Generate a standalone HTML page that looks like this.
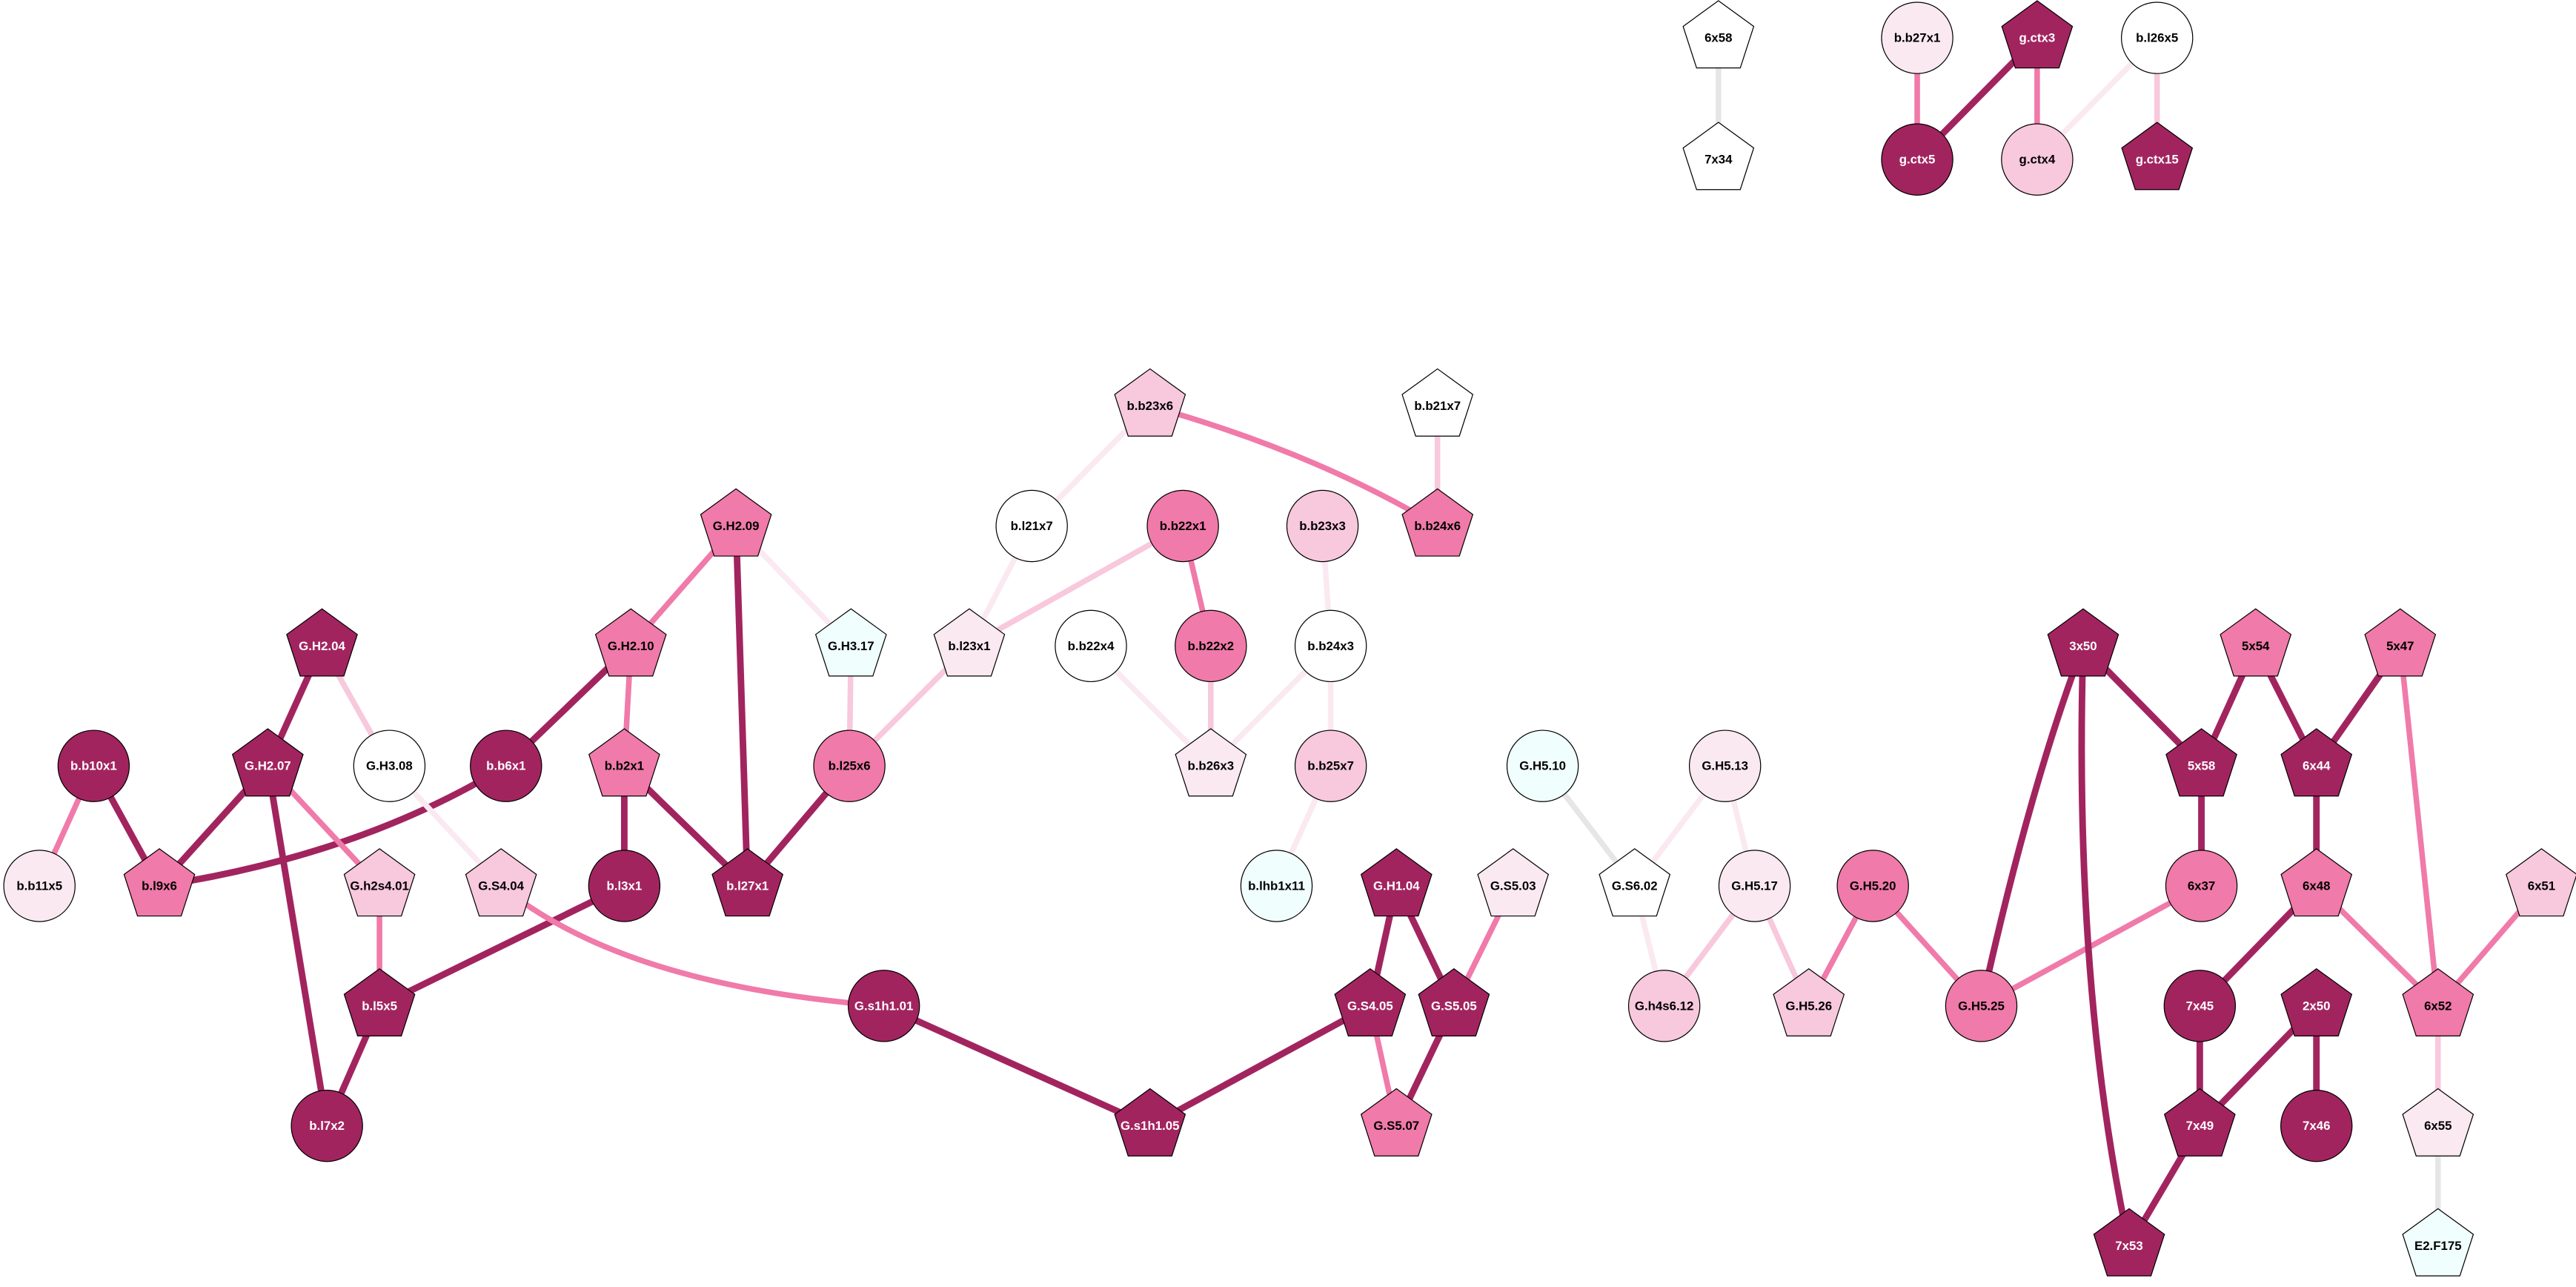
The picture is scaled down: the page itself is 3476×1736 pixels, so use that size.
<!DOCTYPE html>
<html><head><meta charset="utf-8"><style>
html,body{margin:0;padding:0;background:#fff;}
svg{display:block;}
text{font-family:"Liberation Sans",Arial,sans-serif;font-weight:bold;font-size:7.6px;text-anchor:middle;dominant-baseline:central;}
.w{fill:#fff}
.d{stroke:#a2245f;stroke-width:4.0;fill:none}
.m{stroke:#f07aa9;stroke-width:3.4;fill:none}
.l{stroke:#f8c8dc;stroke-width:3.4;fill:none}
.v{stroke:#fbe9f1;stroke-width:3.4;fill:none}
.g{stroke:#e6e6e6;stroke-width:3.4;fill:none}
circle,polygon{stroke:#000;stroke-width:0.55}
</style></head><body>
<svg width="3476" height="1736" viewBox="0 0 1568 783" xmlns="http://www.w3.org/2000/svg">
<defs><polygon id="p" points="0,-22.6 21.5,-7 13.3,18.3 -13.3,18.3 -21.5,-7"/></defs>
<line class="g" x1="1046" y1="23" x2="1046" y2="97"/>
<line class="m" x1="1167" y1="23" x2="1167" y2="97"/>
<line class="d" x1="1240" y1="23" x2="1167" y2="97"/>
<line class="m" x1="1240" y1="23" x2="1240" y2="97"/>
<line class="v" x1="1313" y1="23" x2="1240" y2="97"/>
<line class="l" x1="1313" y1="23" x2="1313" y2="97"/>

<path class="m" d="M700,247 Q800,275 875,320"/>
<line class="v" x1="700" y1="247" x2="628" y2="320"/>
<line class="l" x1="875" y1="247" x2="875" y2="320"/>
<line class="v" x1="628" y1="320" x2="590" y2="393"/>
<line class="l" x1="720" y1="320" x2="590" y2="393"/>
<line class="m" x1="720" y1="320" x2="737" y2="393"/>
<line class="v" x1="805" y1="320" x2="810" y2="393"/>
<line class="v" x1="664" y1="393" x2="737" y2="466"/>
<line class="v" x1="810" y1="393" x2="737" y2="466"/>
<line class="v" x1="810" y1="393" x2="810" y2="466"/>
<line class="v" x1="810" y1="466" x2="777" y2="539"/>
<line class="l" x1="737" y1="393" x2="737" y2="466"/>
<line class="l" x1="590" y1="393" x2="517" y2="466"/>
<line class="l" x1="518" y1="393" x2="517" y2="466"/>
<line class="v" x1="448" y1="320" x2="518" y2="393"/>
<line class="m" x1="448" y1="320" x2="384" y2="393"/>
<line class="d" x1="448" y1="320" x2="455" y2="539"/>
<line class="d" x1="384" y1="393" x2="308" y2="466"/>
<line class="m" x1="384" y1="393" x2="380" y2="466"/>
<line class="d" x1="380" y1="466" x2="380" y2="539"/>
<line class="d" x1="380" y1="466" x2="455" y2="539"/>
<line class="d" x1="517" y1="466" x2="455" y2="539"/>
<path class="d" d="M308,466 Q220,520 97,539"/>
<line class="d" x1="196" y1="393" x2="163" y2="466"/>
<line class="l" x1="196" y1="393" x2="237" y2="466"/>
<line class="v" x1="237" y1="466" x2="305" y2="539"/>
<line class="d" x1="163" y1="466" x2="97" y2="539"/>
<line class="m" x1="163" y1="466" x2="231" y2="539"/>
<line class="d" x1="163" y1="466" x2="199" y2="685"/>
<line class="m" x1="57" y1="466" x2="24" y2="539"/>
<line class="d" x1="57" y1="466" x2="97" y2="539"/>
<line class="m" x1="231" y1="539" x2="231" y2="612"/>
<line class="d" x1="380" y1="539" x2="231" y2="612"/>
<line class="d" x1="231" y1="612" x2="199" y2="685"/>
<path class="m" d="M305,539 Q380,600 538,612"/>
<line class="d" x1="538" y1="612" x2="700" y2="685"/>
<line class="d" x1="700" y1="685" x2="834" y2="612"/>
<line class="d" x1="850" y1="539" x2="834" y2="612"/>
<line class="d" x1="850" y1="539" x2="885" y2="612"/>
<line class="m" x1="834" y1="612" x2="850" y2="685"/>
<line class="d" x1="885" y1="612" x2="850" y2="685"/>
<line class="m" x1="921" y1="539" x2="885" y2="612"/>
<line class="g" x1="939" y1="466" x2="995" y2="539"/>
<line class="v" x1="1050" y1="466" x2="995" y2="539"/>
<line class="v" x1="1050" y1="466" x2="1068" y2="539"/>
<line class="v" x1="995" y1="539" x2="1013" y2="612"/>
<line class="l" x1="1068" y1="539" x2="1013" y2="612"/>
<line class="l" x1="1068" y1="539" x2="1101" y2="612"/>
<line class="m" x1="1140" y1="539" x2="1101" y2="612"/>
<line class="m" x1="1140" y1="539" x2="1206" y2="612"/>
<line class="m" x1="1340" y1="539" x2="1206" y2="612"/>
<path class="d" d="M1268,393 Q1235,480 1206,612"/>
<line class="d" x1="1268" y1="393" x2="1340" y2="466"/>
<path class="d" d="M1268,393 Q1262,600 1296,758"/>
<line class="d" x1="1373" y1="393" x2="1340" y2="466"/>
<line class="d" x1="1373" y1="393" x2="1410" y2="466"/>
<line class="d" x1="1461" y1="393" x2="1410" y2="466"/>
<line class="m" x1="1461" y1="393" x2="1484" y2="612"/>
<line class="d" x1="1340" y1="466" x2="1340" y2="539"/>
<line class="d" x1="1410" y1="466" x2="1410" y2="539"/>
<line class="d" x1="1410" y1="539" x2="1339" y2="612"/>
<line class="m" x1="1410" y1="539" x2="1484" y2="612"/>
<line class="m" x1="1547" y1="539" x2="1484" y2="612"/>
<line class="l" x1="1484" y1="612" x2="1484" y2="685"/>
<line class="g" x1="1484" y1="685" x2="1484" y2="758"/>
<line class="d" x1="1339" y1="612" x2="1339" y2="685"/>
<line class="d" x1="1410" y1="612" x2="1339" y2="685"/>
<line class="d" x1="1410" y1="612" x2="1410" y2="685"/>
<line class="d" x1="1339" y1="685" x2="1296" y2="758"/>

<g>
<use href="#p" x="1046" y="23" fill="#fff"/><text x="1046" y="23">6x58</text>
<use href="#p" x="1046" y="97" fill="#fff"/><text x="1046" y="97">7x34</text>
<circle cx="1167" cy="23" r="21.7" fill="#fbe9f1"/><text x="1167" y="23">b.b27x1</text>
<use href="#p" x="1240" y="23" fill="#a2245f"/><text class="w" x="1240" y="23">g.ctx3</text>
<circle cx="1313" cy="23" r="21.7" fill="#fff"/><text x="1313" y="23">b.l26x5</text>
<circle cx="1167" cy="97" r="21.7" fill="#a2245f"/><text class="w" x="1167" y="97">g.ctx5</text>
<circle cx="1240" cy="97" r="21.7" fill="#f8c8dc"/><text x="1240" y="97">g.ctx4</text>
<use href="#p" x="1313" y="97" fill="#a2245f"/><text class="w" x="1313" y="97">g.ctx15</text>

<use href="#p" x="700" y="247" fill="#f8c8dc"/><text x="700" y="247">b.b23x6</text>
<use href="#p" x="875" y="247" fill="#fff"/><text x="875" y="247">b.b21x7</text>
<circle cx="628" cy="320" r="21.7" fill="#fff"/><text x="628" y="320">b.l21x7</text>
<circle cx="720" cy="320" r="21.7" fill="#f07aa9"/><text x="720" y="320">b.b22x1</text>
<circle cx="805" cy="320" r="21.7" fill="#f8c8dc"/><text x="805" y="320">b.b23x3</text>
<use href="#p" x="875" y="320" fill="#f07aa9"/><text x="875" y="320">b.b24x6</text>
<use href="#p" x="448" y="320" fill="#f07aa9"/><text x="448" y="320">G.H2.09</text>
<use href="#p" x="518" y="393" fill="#f0fefd"/><text x="518" y="393">G.H3.17</text>
<use href="#p" x="384" y="393" fill="#f07aa9"/><text x="384" y="393">G.H2.10</text>
<use href="#p" x="196" y="393" fill="#a2245f"/><text class="w" x="196" y="393">G.H2.04</text>
<use href="#p" x="590" y="393" fill="#fbe9f1"/><text x="590" y="393">b.l23x1</text>
<circle cx="664" cy="393" r="21.7" fill="#fff"/><text x="664" y="393">b.b22x4</text>
<circle cx="737" cy="393" r="21.7" fill="#f07aa9"/><text x="737" y="393">b.b22x2</text>
<circle cx="810" cy="393" r="21.7" fill="#fff"/><text x="810" y="393">b.b24x3</text>
<circle cx="57" cy="466" r="21.7" fill="#a2245f"/><text class="w" x="57" y="466">b.b10x1</text>
<use href="#p" x="163" y="466" fill="#a2245f"/><text class="w" x="163" y="466">G.H2.07</text>
<circle cx="237" cy="466" r="21.7" fill="#fff"/><text x="237" y="466">G.H3.08</text>
<circle cx="308" cy="466" r="21.7" fill="#a2245f"/><text class="w" x="308" y="466">b.b6x1</text>
<use href="#p" x="380" y="466" fill="#f07aa9"/><text x="380" y="466">b.b2x1</text>
<circle cx="517" cy="466" r="21.7" fill="#f07aa9"/><text x="517" y="466">b.l25x6</text>
<use href="#p" x="737" y="466" fill="#fbe9f1"/><text x="737" y="466">b.b26x3</text>
<circle cx="810" cy="466" r="21.7" fill="#f8c8dc"/><text x="810" y="466">b.b25x7</text>
<circle cx="939" cy="466" r="21.7" fill="#f0fefd"/><text x="939" y="466">G.H5.10</text>
<circle cx="1050" cy="466" r="21.7" fill="#fbe9f1"/><text x="1050" y="466">G.H5.13</text>
<use href="#p" x="1268" y="393" fill="#a2245f"/><text class="w" x="1268" y="393">3x50</text>
<use href="#p" x="1373" y="393" fill="#f07aa9"/><text x="1373" y="393">5x54</text>
<use href="#p" x="1461" y="393" fill="#f07aa9"/><text x="1461" y="393">5x47</text>
<use href="#p" x="1340" y="466" fill="#a2245f"/><text class="w" x="1340" y="466">5x58</text>
<use href="#p" x="1410" y="466" fill="#a2245f"/><text class="w" x="1410" y="466">6x44</text>
<circle cx="24" cy="539" r="21.7" fill="#fbe9f1"/><text x="24" y="539">b.b11x5</text>
<use href="#p" x="97" y="539" fill="#f07aa9"/><text x="97" y="539">b.l9x6</text>
<use href="#p" x="231" y="539" fill="#f8c8dc"/><text x="231" y="539">G.h2s4.01</text>
<use href="#p" x="305" y="539" fill="#f8c8dc"/><text x="305" y="539">G.S4.04</text>
<circle cx="380" cy="539" r="21.7" fill="#a2245f"/><text class="w" x="380" y="539">b.l3x1</text>
<use href="#p" x="455" y="539" fill="#a2245f"/><text class="w" x="455" y="539">b.l27x1</text>
<circle cx="777" cy="539" r="21.7" fill="#f0fefd"/><text x="777" y="539">b.lhb1x11</text>
<use href="#p" x="850" y="539" fill="#a2245f"/><text class="w" x="850" y="539">G.H1.04</text>
<use href="#p" x="921" y="539" fill="#fbe9f1"/><text x="921" y="539">G.S5.03</text>
<use href="#p" x="995" y="539" fill="#fff"/><text x="995" y="539">G.S6.02</text>
<circle cx="1068" cy="539" r="21.7" fill="#fbe9f1"/><text x="1068" y="539">G.H5.17</text>
<circle cx="1140" cy="539" r="21.7" fill="#f07aa9"/><text x="1140" y="539">G.H5.20</text>
<circle cx="1340" cy="539" r="21.7" fill="#f07aa9"/><text x="1340" y="539">6x37</text>
<use href="#p" x="1410" y="539" fill="#f07aa9"/><text x="1410" y="539">6x48</text>
<use href="#p" x="1547" y="539" fill="#f8c8dc"/><text x="1547" y="539">6x51</text>
<use href="#p" x="231" y="612" fill="#a2245f"/><text class="w" x="231" y="612">b.l5x5</text>
<circle cx="538" cy="612" r="21.7" fill="#a2245f"/><text class="w" x="538" y="612">G.s1h1.01</text>
<use href="#p" x="834" y="612" fill="#a2245f"/><text class="w" x="834" y="612">G.S4.05</text>
<use href="#p" x="885" y="612" fill="#a2245f"/><text class="w" x="885" y="612">G.S5.05</text>
<circle cx="1013" cy="612" r="21.7" fill="#f8c8dc"/><text x="1013" y="612">G.h4s6.12</text>
<use href="#p" x="1101" y="612" fill="#f8c8dc"/><text x="1101" y="612">G.H5.26</text>
<circle cx="1206" cy="612" r="21.7" fill="#f07aa9"/><text x="1206" y="612">G.H5.25</text>
<circle cx="1339" cy="612" r="21.7" fill="#a2245f"/><text class="w" x="1339" y="612">7x45</text>
<use href="#p" x="1410" y="612" fill="#a2245f"/><text class="w" x="1410" y="612">2x50</text>
<use href="#p" x="1484" y="612" fill="#f07aa9"/><text x="1484" y="612">6x52</text>
<circle cx="199" cy="685" r="21.7" fill="#a2245f"/><text class="w" x="199" y="685">b.l7x2</text>
<use href="#p" x="700" y="685" fill="#a2245f"/><text class="w" x="700" y="685">G.s1h1.05</text>
<use href="#p" x="850" y="685" fill="#f07aa9"/><text x="850" y="685">G.S5.07</text>
<use href="#p" x="1339" y="685" fill="#a2245f"/><text class="w" x="1339" y="685">7x49</text>
<circle cx="1410" cy="685" r="21.7" fill="#a2245f"/><text class="w" x="1410" y="685">7x46</text>
<use href="#p" x="1484" y="685" fill="#fbe9f1"/><text x="1484" y="685">6x55</text>
<use href="#p" x="1296" y="758" fill="#a2245f"/><text class="w" x="1296" y="758">7x53</text>
<use href="#p" x="1484" y="758" fill="#f0fefd"/><text x="1484" y="758">E2.F175</text>
</g>
</svg>
</body></html>
